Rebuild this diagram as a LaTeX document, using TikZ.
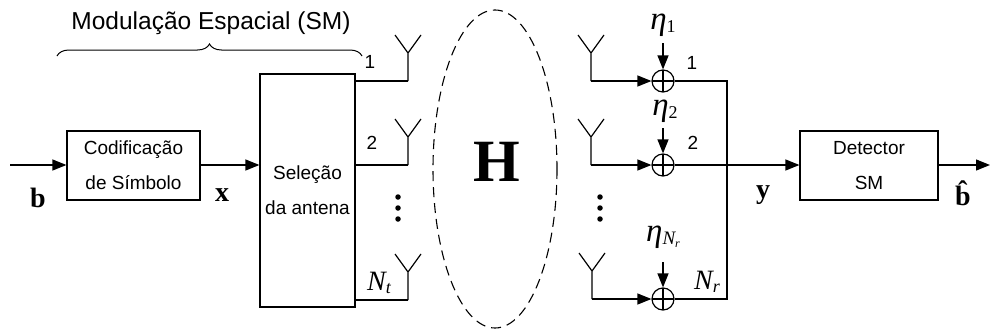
\documentclass[tikz,border=0pt]{standalone}
\usepackage{fontspec}
\setmainfont{Liberation Serif}
\setsansfont{Liberation Sans}
\usetikzlibrary{arrows.meta,decorations.pathreplacing}
\newcommand{\msub}[4]{{\fontsize{#1}{#1}\selectfont\itshape #3}\raisebox{-0.35em}{\fontsize{#2}{#2}\selectfont #4}}
\begin{document}
\begin{tikzpicture}[x=1pt,y=-1pt,line width=1.2pt,
  blk/.style={draw,inner sep=0pt,align=center,font=\sffamily\fontsize{19}{35}\selectfont},
  arr/.style={-{Triangle[length=14pt,width=11pt]}},
  sumnode/.style={circle,draw,minimum size=22pt,inner sep=0pt,
    path picture={\draw (path picture bounding box.north) -- (path picture bounding box.south)
      (path picture bounding box.west) -- (path picture bounding box.east);}},
  num/.style={font=\sffamily\fontsize{19}{19}\selectfont,inner sep=0pt},
  vec/.style={font=\bfseries\fontsize{28}{28}\selectfont,inner sep=0pt},
  mth/.style={inner sep=0pt},
  dotm/.style={circle,fill,inner sep=0pt,minimum size=5.5pt},
  ant/.pic={\draw (0,0) -- (0,-28) (-13,-46) -- (0,-28) -- (13,-46);}]
\useasboundingbox (0,0) rectangle (990,332);

% title and brace
\node[font=\sffamily\fontsize{24.5}{24.5}\selectfont,inner sep=0pt] (title) at (211,23) {Modulação Espacial (SM)};
\coordinate (brL) at (57,56);
\coordinate (brR) at (362,56);
\draw[line width=1pt,decorate,decoration={brace,amplitude=12pt}] (brL) -- (brR);

% blocks
\coordinate (in) at (10,165);
\node[blk,minimum width=133pt,minimum height=69pt] (cod) at (133.5,165.5) {Codificação\\de Símbolo};
\node[blk,minimum width=95pt,minimum height=233pt] (sel) at (307.5,190.5) {Seleção\\da antena};
\node[blk,minimum width=138pt,minimum height=69pt] (det) at (869,165.5) {Detector\\SM};
\coordinate (out) at (990,165);

\draw[arr] (in) -- (cod.west |- in);
\draw[arr] (cod.east |- in) -- (sel.west |- in);
\node[vec] (b) at (38,198) {b};
\node[vec] (x) at (222,195) {x};

% transmit antennas
\coordinate (t1) at (408,81);
\coordinate (t2) at (408,165);
\coordinate (t3) at (408,300);
\draw (sel.east |- t1) -- (t1);
\draw (sel.east |- t2) -- (t2);
\draw (sel.east |- t3) -- (t3);
\pic at (t1) {ant};
\pic at (t2) {ant};
\pic at (t3) {ant};
\node[num] (n1) at (370,62) {1};
\node[num] (n2) at (372,143) {2};
\node[mth] (nt) at (379,283) {\msub{28}{18}{N}{\itshape t}};
\node[dotm] (td1) at (398,197) {};
\node[dotm] (td2) at (398,208) {};
\node[dotm] (td3) at (398,219) {};

% channel
\draw[dashed,dash pattern=on 10pt off 6pt,line width=1.1pt] (495,169) ellipse [x radius=62,y radius=159];
\node[inner sep=0pt,font=\bfseries\fontsize{60}{60}\selectfont] (H) at (497,162) {H};

% receive antennas
\coordinate (r1) at (591,81);
\coordinate (r2) at (591,165);
\coordinate (r3) at (592,299);
\pic at (r1) {ant};
\pic at (r2) {ant};
\pic at (r3) {ant};
\node[dotm] (rd1) at (600,197) {};
\node[dotm] (rd2) at (600,208) {};
\node[dotm] (rd3) at (600,219) {};

\node[sumnode] (s1) at (663,81) {};
\node[sumnode] (s2) at (663,165) {};
\node[sumnode] (s3) at (663,299) {};
\draw[arr] (r1) -- (s1);
\draw[arr] (r2) -- (s2);
\draw[arr] (r3) -- (s3);

\node[mth] (e1) at (663,25) {\msub{33}{18}{η}{1}};
\node[mth] (e2) at (665,111) {\msub{33}{18}{η}{2}};
\node[mth] (e3) at (663,237) {{\fontsize{33}{33}\selectfont\itshape η}\raisebox{-0.3em}{\msub{19}{12}{N}{\itshape r}}};
\coordinate (e1a) at (663,43);
\coordinate (e2a) at (663,128);
\coordinate (e3a) at (663,262);
\draw[arr] (e1a) -- (s1);
\draw[arr] (e2a) -- (s2);
\draw[arr] (e3a) -- (s3);

\node[num] (m1) at (692,63) {1};
\node[num] (m2) at (693,143) {2};
\node[mth] (nr) at (707,282) {\msub{28}{18}{N}{\itshape r}};

\coordinate (c1) at (727,81);
\coordinate (c3) at (727,299);
\draw (s1) -- (c1) -- (c3) -- (s3);
\draw (s2) -- (c1 |- s2);
\draw[arr] (c1 |- s2) -- (det.west |- s2);
\node[vec] (y) at (763,195) {y};

\draw[arr] (det.east |- out) -- (out);
\node[vec] (bh) at (963,193) {\^{b}};
\end{tikzpicture}
\end{document}
